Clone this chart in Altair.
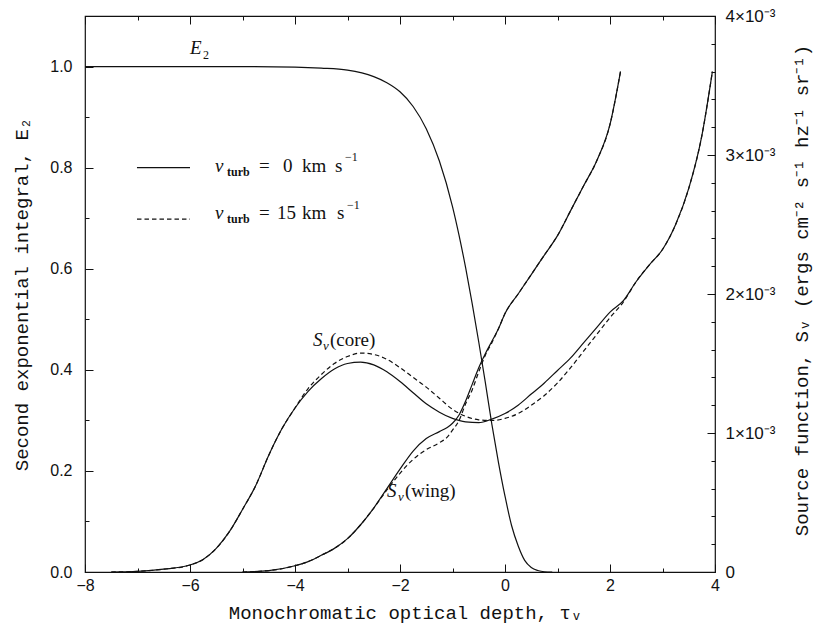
import altair as alt
import pandas as pd

# ---------------- data ----------------
# Second exponential integral E2 (left axis)
e2_tau = [-8, -6, -5, -4, -3.5, -3, -2.5, -2.25, -2, -1.75, -1.5, -1.25, -1, -0.875,
          -0.75, -0.625, -0.5, -0.375, -0.25, -0.125, 0, 0.125, 0.25, 0.375, 0.5,
          0.625, 0.75, 0.9]
e2_val = [1.0, 1.0, 1.0, 0.999, 0.997, 0.993, 0.980, 0.968, 0.950, 0.921, 0.877, 0.813,
          0.723, 0.666, 0.602, 0.531, 0.455, 0.375, 0.292, 0.217, 0.150, 0.092, 0.052,
          0.023, 0.009, 0.003, 0.0005, 0.0]

# Source function, core (units of 1e-3, right axis)
core_tau = [-7.5, -7.0, -6.5, -6.0, -5.75, -5.5, -5.25, -5.0, -4.75, -4.5, -4.25, -4.0,
            -3.75, -3.5, -3.25, -3.0, -2.75, -2.5, -2.25, -2.0, -1.75, -1.5, -1.25,
            -1.0, -0.75, -0.5, -0.25, 0.0, 0.25, 0.5, 0.75, 1.0, 1.25, 1.5, 1.75, 2.0,
            2.25, 2.5, 2.75, 3.0, 3.25, 3.5, 3.75, 3.95]
core_v0 = [0.0, 0.005, 0.02, 0.05, 0.09, 0.17, 0.29, 0.45, 0.62, 0.84, 1.03, 1.18,
           1.30, 1.39, 1.46, 1.50, 1.51, 1.49, 1.44, 1.37, 1.29, 1.21, 1.15,
           1.105, 1.08, 1.075, 1.10, 1.14, 1.20, 1.28, 1.36, 1.45, 1.54, 1.65, 1.76, 1.87,
           1.95, 2.09, 2.21, 2.32, 2.50, 2.76, 3.14, 3.60]
core_v15 = [0.0, 0.005, 0.02, 0.05, 0.09, 0.17, 0.29, 0.45, 0.62, 0.84, 1.03, 1.18,
            1.32, 1.42, 1.50, 1.55, 1.575, 1.565, 1.53, 1.47, 1.40, 1.33, 1.25,
            1.17, 1.12, 1.095, 1.09, 1.105, 1.14, 1.20, 1.27, 1.36, 1.47, 1.59, 1.71, 1.83,
            1.94, 2.09, 2.21, 2.32, 2.50, 2.76, 3.14, 3.60]

# Source function, wing (units of 1e-3, right axis)
wing_tau = [-5.0, -4.5, -4.0, -3.75, -3.5, -3.25, -3.0, -2.75, -2.5, -2.25, -2.0, -1.75,
            -1.5, -1.25, -1.1, -1.0, -0.875, -0.75, -0.625, -0.5, -0.375, -0.25, -0.125,
            0.0, 0.25, 0.5, 0.75, 1.0, 1.25, 1.5, 1.75, 2.0, 2.2]
wing_v0 = [0.0, 0.01, 0.045, 0.075, 0.12, 0.17, 0.24, 0.34, 0.46, 0.60, 0.74, 0.87,
           0.96, 1.01, 1.04, 1.07, 1.13, 1.23, 1.35, 1.47, 1.57, 1.66, 1.75,
           1.86, 2.00, 2.14, 2.28, 2.42, 2.60, 2.78, 2.96, 3.22, 3.60]
wing_v15 = [0.0, 0.01, 0.045, 0.075, 0.12, 0.17, 0.24, 0.34, 0.46, 0.59, 0.71, 0.81,
            0.88, 0.93, 0.97, 1.02, 1.09, 1.21, 1.31, 1.44, 1.56, 1.65, 1.75,
            1.86, 2.00, 2.14, 2.28, 2.42, 2.60, 2.78, 2.96, 3.22, 3.60]

# axis ticks / labels
x_major = [-8, -6, -4, -2, 0, 2, 4]
x_minor = [-7, -5, -3, -1, 1, 3]
yl_major = [0.0, 0.2, 0.4, 0.6, 0.8, 1.0]
yl_minor = [0.1, 0.3, 0.5, 0.7, 0.9]
yr_major = [0, 1, 2, 3, 4]
yr_minor = [0.2, 0.4, 0.6, 0.8, 1.2, 1.4, 1.6, 1.8, 2.2, 2.4, 2.6, 2.8, 3.2, 3.4, 3.6, 3.8]

# legend samples (x from, x to, y) in data units
leg_x1 = [-7.01, -7.01]
leg_x2 = [-6.0, -6.0]
leg_y = [0.800, 0.698]

# annotation pieces: (text, tau, E2-units y)
txt_italic = [("v", -5.524, 0.804), ("v", -5.524, 0.7095), ("E", -6.0, 1.036),
              ("S", -3.657, 0.4585), ("S", -2.248, 0.160)]
txt_bold_small = [("turb", -5.295, 0.792), ("turb", -5.295, 0.698)]
txt_regular = [("=", -4.686, 0.804), ("0", -4.229, 0.804),
               ("km", -3.867, 0.804), ("s", -3.238, 0.804),
               ("=", -4.686, 0.7095), ("15", -4.343, 0.7095),
               ("km", -3.867, 0.7095), ("s", -3.20, 0.7095),
               ("(core)", -3.333, 0.4585), ("(wing)", -1.905, 0.160)]
txt_small = [("−1", -3.048, 0.822), ("−1", -3.01, 0.727), ("2", -5.752, 1.022)]
txt_small_italic = [("ν", -3.467, 0.447), ("ν", -2.04, 0.148)]

# ---------------- chart ----------------
W, H = 630, 556
TITLE_FONT = "Liberation Mono"
LABEL_FONT = "Liberation Sans"
SERIF = "Liberation Serif"
BLACK = "#111111"

XS = alt.Scale(domain=[-8, 4], nice=False, zero=False)
YE = alt.Scale(domain=[0, 1.1], nice=False, zero=False)
YS = alt.Scale(domain=[0, 4], nice=False, zero=False)

common = dict(domain=False, grid=False, tickColor=BLACK, tickWidth=1,
              labelColor=BLACK, labelFont=LABEL_FONT, labelFontSize=16,
              titleColor=BLACK, titleFont=TITLE_FONT, titleFontSize=19,
              titleFontWeight="normal")

ax_bottom = alt.Axis(orient="bottom", values=x_major, offset=-8, tickSize=8,
                     labelPadding=5, format="d", labelFlush=False,
                     title="Monochromatic optical depth, τᵥ",
                     titleX=W / 2 + 5, titleY=54, titleAlign="center",
                     titleBaseline="alphabetic", **common)
ax_bottom_minor = alt.Axis(orient="bottom", values=x_minor, offset=-4, tickSize=4,
                           labels=False, **common)
ax_top = alt.Axis(orient="top", values=x_major, offset=-8, tickSize=8,
                  labels=False, **common)
ax_top_minor = alt.Axis(orient="top", values=x_minor, offset=-4, tickSize=4,
                        labels=False, **common)
ax_left = alt.Axis(orient="left", values=yl_major, offset=-8, tickSize=8,
                   labelPadding=13, format=".1f", labelFlush=False,
                   title="Second exponential integral, E₂",
                   titleAngle=270, titleX=-66, titleY=H / 2, titleAlign="center",
                   titleBaseline="alphabetic", **common)
ax_left_minor = alt.Axis(orient="left", values=yl_minor, offset=-4, tickSize=4,
                         labels=False, **common)
common_r = dict(common)
common_r["labelFontSize"] = 17
ax_right = alt.Axis(orient="right", values=yr_major, offset=-8, tickSize=8,
                    labelPadding=10, labelFlush=False,
                    labelExpr="datum.value == 0 ? '0' : datum.value + '×10⁻³'",
                    title="Source function, Sᵥ  (ergs cm⁻² s⁻¹ hz⁻¹ sr⁻¹)",
                    titleAngle=270, titleX=100, titleY=H / 2 - 4, titleAlign="center",
                    titleBaseline="alphabetic", **common_r)
ax_right_minor = alt.Axis(orient="right", values=yr_minor, offset=-4, tickSize=4,
                          labels=False, **common)

df_e2 = pd.DataFrame({"tau": e2_tau, "val": e2_val})
df_c0 = pd.DataFrame({"tau": core_tau, "val": core_v0})
df_c15 = pd.DataFrame({"tau": core_tau, "val": core_v15})
df_w0 = pd.DataFrame({"tau": wing_tau, "val": wing_v0})
df_w15 = pd.DataFrame({"tau": wing_tau, "val": wing_v15})
df_leg = pd.DataFrame({"x1": leg_x1, "x2": leg_x2, "y": leg_y, "kind": ["solid", "dash"]})

DASH = [4.5, 3]
LW = 1.2


def line(df, xaxis, yscale, yaxis, dash=None):
    kw = dict(color=BLACK, strokeWidth=LW, interpolate="monotone")
    if dash:
        kw["strokeDash"] = dash
    return alt.Chart(df).mark_line(**kw).encode(
        x=alt.X("tau:Q", scale=XS, axis=xaxis, title=None),
        y=alt.Y("val:Q", scale=yscale, axis=yaxis, title=None),
    )


l_e2 = line(df_e2, ax_bottom, YE, ax_left)
l_c0 = line(df_c0, ax_top_minor, YS, ax_right)
l_c15 = line(df_c15, None, YS, ax_right_minor, DASH)
l_w0 = line(df_w0, None, YS, None)
l_w15 = line(df_w15, None, YS, None, DASH)

leg_solid = alt.Chart(df_leg[df_leg.kind == "solid"]).mark_rule(
    color=BLACK, strokeWidth=LW).encode(
    x=alt.X("x1:Q", scale=XS, axis=ax_bottom_minor, title=None),
    x2="x2:Q",
    y=alt.Y("y:Q", scale=YE, axis=ax_left_minor, title=None),
)
leg_dash = alt.Chart(df_leg[df_leg.kind == "dash"]).mark_rule(
    color=BLACK, strokeWidth=LW, strokeDash=DASH).encode(
    x=alt.X("x1:Q", scale=XS, axis=ax_top, title=None),
    x2="x2:Q",
    y=alt.Y("y:Q", scale=YE, axis=None, title=None),
)


def texts(items, size, style="normal", weight="normal"):
    df = pd.DataFrame(items, columns=["t", "tau", "y"])
    return alt.Chart(df).mark_text(
        font=SERIF, fontSize=size, fontStyle=style, fontWeight=weight,
        align="left", baseline="middle", color=BLACK).encode(
        x=alt.X("tau:Q", scale=XS, axis=None),
        y=alt.Y("y:Q", scale=YE, axis=None),
        text="t:N",
    )


t1 = texts(txt_italic, 19, style="italic")
t2 = texts(txt_bold_small, 12, weight="bold")
t3 = texts(txt_regular, 19)
t4 = texts(txt_small, 12)
t5 = texts(txt_small_italic, 13, style="italic")

chart = alt.layer(
    l_e2, l_c0, l_c15, l_w0, l_w15, leg_solid, leg_dash, t1, t2, t3, t4, t5
).resolve_scale(y="independent").resolve_axis(x="independent", y="independent").properties(
    width=W, height=H,
    padding={"left": 77, "top": 8, "right": 100, "bottom": 53},
    autosize=alt.AutoSizeParams(type="none"),
    background="white",
).configure_view(stroke=BLACK, strokeWidth=1.2)

chart.save("out.html", embed_options={"renderer": "svg", "actions": False})
